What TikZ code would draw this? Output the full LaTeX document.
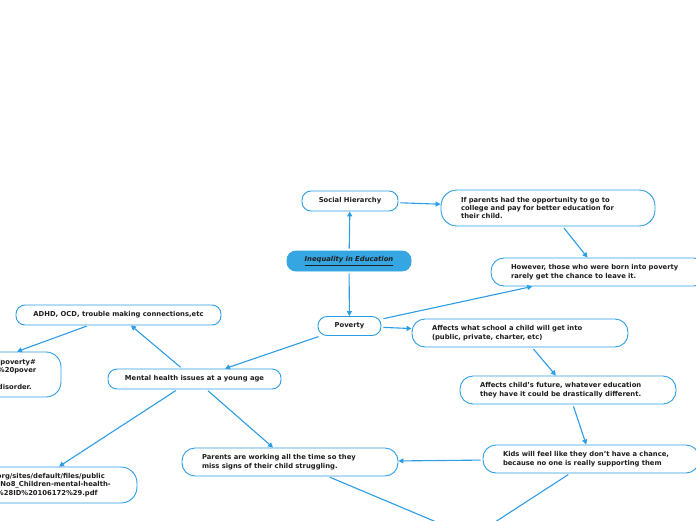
\documentclass[tikz,border=0pt]{standalone}
\usepackage{fontspec}
\setmainfont{DejaVu Sans}
\usetikzlibrary{arrows.meta}
\definecolor{mapblue}{HTML}{2C9DE4}
\definecolor{rootblue}{HTML}{35A6E1}
\definecolor{inkgray}{HTML}{1E1E1E}

\begin{document}
\begin{tikzpicture}[x=1pt,y=-1pt,
  every node/.style={font=\bfseries\fontsize{6.8}{8.4}\selectfont,text=inkgray},
  topic/.style={rectangle,rounded corners=9pt,draw=mapblue,line width=0.9pt,fill=white,minimum height=20pt,inner sep=0pt,align=center},
  note/.style={rectangle,rounded corners=13pt,draw=mapblue,line width=0.9pt,fill=white,minimum width=216pt,minimum height=28pt,inner sep=0pt,text width=176pt,align=left},
  root/.style={topic,fill=rootblue,draw=rootblue},
  arrow/.style={-{Triangle[length=5pt,width=5pt]},line width=1.1pt,color=mapblue,shorten <=2pt}
]
\useasboundingbox (0,0) rectangle (696,520);
\clip (0,0) rectangle (696,520);

\node[topic,minimum width=96pt] (social) at (350,201) {Social Hierarchy};
\node[note,minimum width=214pt,minimum height=36pt,text width=174pt,rounded corners=16pt] (parentsChance) at (548,208) {If parents had the opportunity to go to\\college and pay for better education for\\their child.};
\node[root,minimum width=124pt] (ineq) at (349,261) {\textit{\underline{Inequality in Education}}};
\node[note] (bornPoor) at (599,272) {However, those who were born into poverty\\rarely get the chance to leave it.};
\node[topic,minimum width=63pt,minimum height=19pt] (poverty) at (349.5,326) {Poverty};
\node[note] (school) at (520,333) {Affects what school a child will get into\\(public, private, charter, etc)};
\node[note] (future) at (568,390) {Affects child's future, whatever education\\they have it could be drastically different.};
\node[note] (noChance) at (591,459) {Kids will feel like they don't have a chance,\\because no one is really supporting them};
\node[note] (busy) at (290,462) {Parents are working all the time so they\\miss signs of their child struggling.};
\node[topic,minimum width=173pt] (mental) at (194.5,379) {Mental health issues at a young age};
\node[topic,minimum width=205pt] (adhd) at (118.5,315) {ADHD, OCD, trouble making connections,etc};
\node[note,minimum width=80pt,minimum height=45pt,text width=46pt,rounded corners=15pt] (srcA) at (21,374.5) {/poverty\#\\\%20pover\\\mbox{}\\disorder.};
\node[note,minimum width=156pt,minimum height=36pt,text width=124pt,rounded corners=16pt] (srcB) at (59,485) {org/sites/default/files/public\\\_No8\_Children-mental-health-\\\%28ID\%20106172\%29.pdf};
\coordinate (hidden) at (472,537);

\draw[arrow] (ineq) -- (social);
\draw[arrow] (social) -- (parentsChance);
\draw[arrow] (parentsChance) -- (bornPoor);
\draw[arrow] (ineq) -- (poverty);
\draw[arrow] (poverty) -- (bornPoor);
\draw[arrow] (poverty) -- (school);
\draw[arrow] (school) -- (future);
\draw[arrow] (future) -- (noChance);
\draw[arrow] (noChance) -- (busy);
\draw[arrow] (poverty) -- (mental);
\draw[arrow] (mental) -- (adhd);
\draw[arrow] ([xshift=-30pt]adhd.south) -- ([xshift=-4pt]srcA.north);
\draw[arrow] ([xshift=-17pt]mental.south) -- (srcB.north);
\draw[arrow] ([xshift=12pt]mental.south) -- ([xshift=-17pt]busy.north);
\draw[arrow] ([xshift=38pt]busy.south) -- (hidden);
\draw[arrow] ([xshift=-21pt]noChance.south) -- (hidden);
\end{tikzpicture}
\end{document}
